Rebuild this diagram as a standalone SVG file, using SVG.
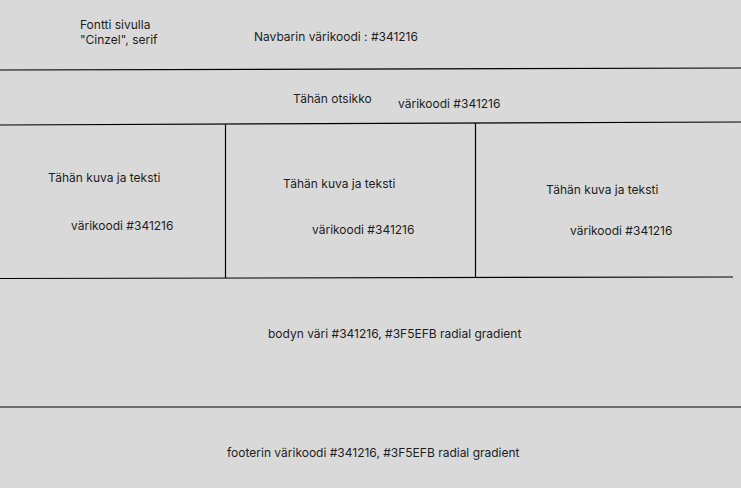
<svg xmlns="http://www.w3.org/2000/svg" width="741" height="488" viewBox="0 0 741 488">
<style>
.t{font-family:Inter,"Noto Sans","Liberation Sans",sans-serif;font-size:12px;fill:#1e1e1e}
.l{stroke:#000;stroke-width:1.2;fill:none}
</style>
<rect width="741" height="488" fill="#d9d9d9"/>
<g id="connectors">
<line class="l" x1="0" y1="70" x2="741" y2="68"/>
<line class="l" x1="0" y1="125" x2="741" y2="122"/>
<line class="l" x1="225.5" y1="124.5" x2="225.5" y2="278"/>
<line class="l" x1="475.5" y1="123" x2="475.5" y2="277"/>
<line class="l" x1="0" y1="278.5" x2="733" y2="277"/>
<line class="l" x1="0" y1="407" x2="741" y2="407"/>
</g>
<g id="navbar">
<text class="t" x="80" y="29">Fontti sivulla</text>
<text class="t" x="80" y="44">"Cinzel", serif</text>
<text class="t" x="254" y="41">Navbarin värikoodi : #341216</text>
</g>
<g id="header">
<text class="t" x="293" y="103">Tähän otsikko</text>
<text class="t" x="398" y="108">värikoodi #341216</text>
</g>
<g id="card1">
<text class="t" x="48" y="182">Tähän kuva ja teksti</text>
<text class="t" x="71" y="230">värikoodi #341216</text>
</g>
<g id="card2">
<text class="t" x="283" y="188">Tähän kuva ja teksti</text>
<text class="t" x="312" y="234">värikoodi #341216</text>
</g>
<g id="card3">
<text class="t" x="546" y="194">Tähän kuva ja teksti</text>
<text class="t" x="570" y="235">värikoodi #341216</text>
</g>
<g id="body">
<text class="t" x="268" y="338">bodyn väri #341216, #3F5EFB radial gradient</text>
</g>
<g id="footer">
<text class="t" x="227" y="457">footerin värikoodi #341216, #3F5EFB radial gradient</text>
</g>
</svg>
